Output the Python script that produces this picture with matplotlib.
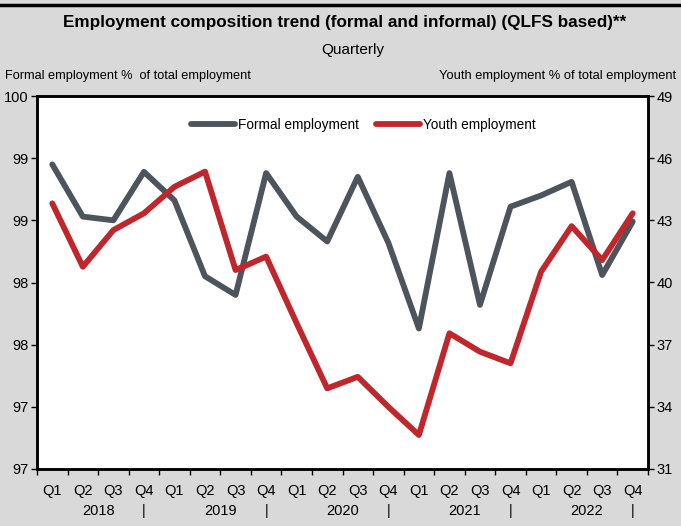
import numpy as np
import matplotlib
matplotlib.use('Agg')
import matplotlib.pyplot as plt
import matplotlib.transforms as mtransforms

plt.rcParams['font.family'] = ['Liberation Sans', 'DejaVu Sans']

# --- DATA ---
quarters = ['Q1', 'Q2', 'Q3', 'Q4'] * 5
years = ['2018', '2019', '2020', '2021', '2022']
formal = [99.45, 99.03, 99.00, 99.39, 99.16, 98.55, 98.40, 99.38, 99.03, 98.83,
          99.35, 98.82, 98.13, 99.38, 98.32, 99.11, 99.20, 99.31, 98.56, 98.99]
youth = [43.82, 40.76, 42.53, 43.34, 44.62, 45.35, 40.60, 41.25, 38.03, 34.89,
         35.45, 34.00, 32.64, 37.55, 36.66, 36.10, 40.52, 42.72, 41.08, 43.34]
left_ticks = [97, 97.5, 98, 98.5, 99, 99.5, 100]
left_labels = ['97', '97', '98', '98', '99', '99', '100']
right_ticks = [31, 34, 37, 40, 43, 46, 49]

GRAY = '#4d545c'
RED = '#c0272d'
BG = '#d9d9d9'

fig = plt.figure(figsize=(6.81, 5.26), dpi=100, facecolor=BG)
ax = fig.add_axes([37/681, 1 - 469/526, 611/681, 373/526])
ax2 = ax.twinx()

x = np.arange(len(quarters))
l1, = ax.plot(x, formal, color=GRAY, lw=4.2, solid_capstyle='round', label='Formal employment')
l2, = ax2.plot(x, youth, color=RED, lw=4.2, solid_capstyle='round', label='Youth employment')

ax.set_xlim(-0.5, len(quarters) - 0.5)
ax.set_ylim(97, 100)
ax2.set_ylim(31, 49)
ax.set_yticks(left_ticks)
ax.set_yticklabels(left_labels)
ax2.set_yticks(right_ticks)

ax.set_xticks(x)
ax.set_xticklabels(quarters)
ax.set_xticks(np.arange(-0.5, len(quarters), 1), minor=True)
ax.tick_params(axis='x', which='major', length=0, pad=11, labelsize=10.5)
ax.tick_params(axis='x', which='minor', length=4, width=1, direction='out')
ax.tick_params(axis='y', length=4, width=1, direction='out', labelsize=10.5, pad=2)
ax2.tick_params(axis='y', length=4, width=1, direction='out', labelsize=10.5, pad=2)

for a in (ax, ax2):
    for s in a.spines.values():
        s.set_linewidth(1.8)
        s.set_color('black')
ax.set_facecolor('white')

# year labels and separators
trans = mtransforms.blended_transform_factory(ax.transData, ax.transAxes)
for k, yr in enumerate(years):
    ax.text(4 * k + 1.5, -0.113, yr, transform=trans, ha='center', va='center', fontsize=10.5)
    ax.text(4 * k + 3, -0.113, '|', transform=trans, ha='center', va='center', fontsize=10.5)

ax2.legend(handles=[l1, l2], loc='upper center', bbox_to_anchor=(0.534, 0.974), ncol=2,
           frameon=False, fontsize=9.8, handlelength=3.2, handletextpad=0.2, columnspacing=1.3)

fig.text(345/681, 1 - 22/526, 'Employment composition trend (formal and informal) (QLFS based)**',
         ha='center', va='center', fontsize=12.3, fontweight='bold')
fig.text(353/681, 1 - 50/526, 'Quarterly', ha='center', va='center', fontsize=11)
fig.text(5/681, 1 - 76/526, 'Formal employment %  of total employment', ha='left', va='center', fontsize=9.2)
fig.text(676/681, 1 - 76/526, 'Youth employment % of total employment', ha='right', va='center', fontsize=9.3)

fig.add_artist(plt.Line2D([0, 1], [1 - 5/526, 1 - 5/526], transform=fig.transFigure, color='black', lw=2.5))

fig.savefig('out.png', dpi=100, facecolor=BG)
